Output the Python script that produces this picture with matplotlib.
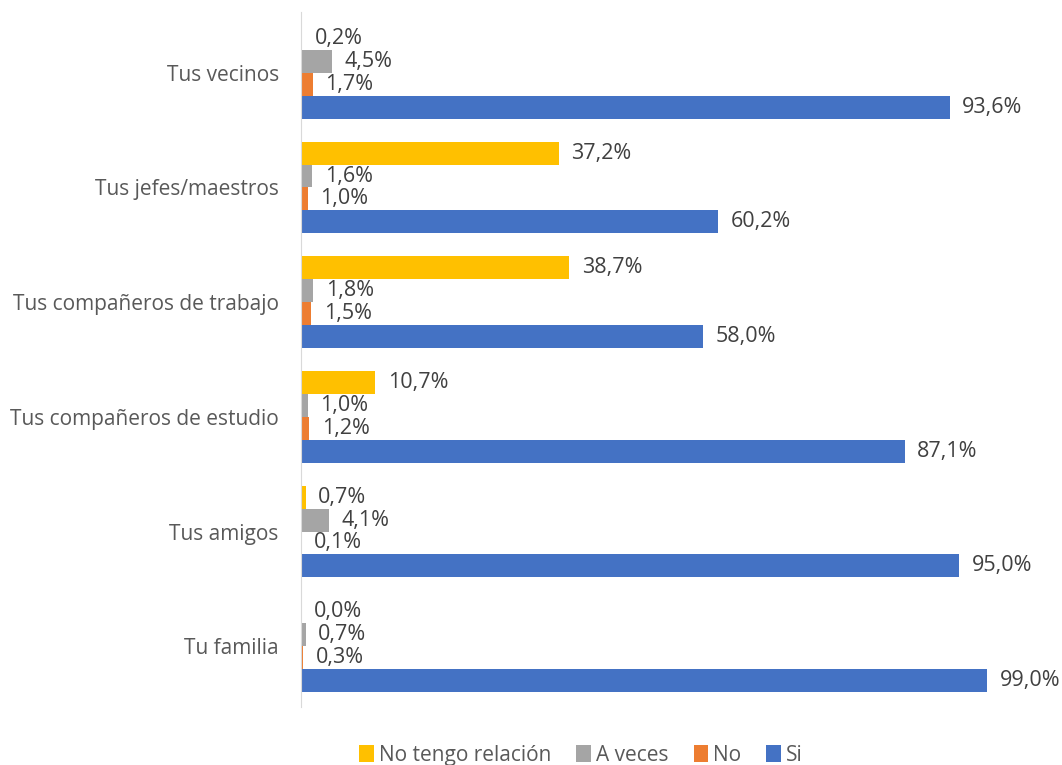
import matplotlib.pyplot as plt
import numpy as np

plt.rcParams["font.family"] = ["Open Sans", "DejaVu Sans"]

categories = ["Tu familia", "Tus amigos", "Tus compañeros de estudio",
              "Tus compañeros de trabajo", "Tus jefes/maestros", "Tus vecinos"]
si = [99.0, 95.0, 87.1, 58.0, 60.2, 93.6]
no = [0.3, 0.1, 1.2, 1.5, 1.0, 1.7]
a_veces = [0.7, 4.1, 1.0, 1.8, 1.6, 4.5]
no_tengo = [0.0, 0.7, 10.7, 38.7, 37.2, 0.2]

series = [
    ("No tengo relación", no_tengo, "#FFC000", 0.3),
    ("A veces", a_veces, "#A5A5A5", 0.1),
    ("No", no, "#ED7D31", -0.1),
    ("Si", si, "#4472C4", -0.3),
]

fig = plt.figure(figsize=(10.62, 7.65), dpi=100)
ax = fig.add_axes([301 / 1062, 58 / 765, 739 / 1062, 695 / 765])

y = np.arange(len(categories))
for name, vals, color, off in series:
    bars = ax.barh(y + off, vals, height=0.2, color=color, label=name)
    for b, v in zip(bars, vals):
        ax.annotate(f"{v:.1f}%".replace(".", ","),
                    xy=(b.get_width(), b.get_y() + b.get_height() / 2),
                    xytext=(9, 0), textcoords="offset points",
                    ha="left", va="center", fontsize=15.5, color="#404040")

ax.set_xlim(0, 739 / 6.93)
ax.set_ylim(-0.53, 5.53)
ax.set_yticks(y)
ax.set_yticklabels(categories, fontsize=15, color="#595959")
ax.set_xticks([])
ax.tick_params(axis="y", length=0, pad=16)
for s in ["top", "right", "bottom"]:
    ax.spines[s].set_visible(False)
ax.spines["left"].set_color("#D9D9D9")

ax.legend(loc="lower center", bbox_to_anchor=(581 / 1062, -0.012), bbox_transform=fig.transFigure,
          ncol=4, frameon=False, fontsize=15, labelcolor="#595959",
          handlelength=0.7, handleheight=0.9, handletextpad=0.25, columnspacing=1.2,
          borderaxespad=0.0)

fig.savefig("out.png", dpi=100)
